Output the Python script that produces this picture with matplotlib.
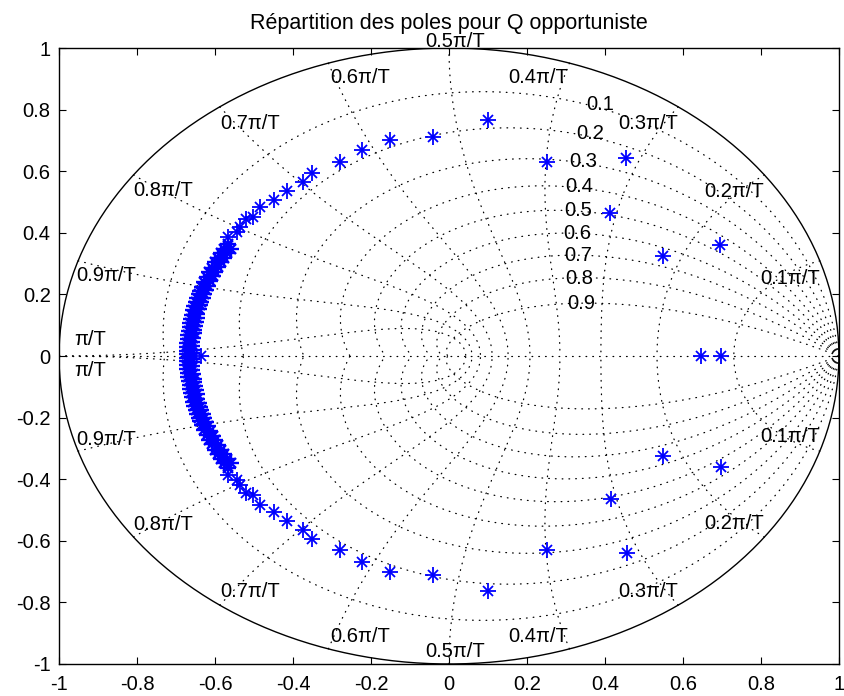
import numpy as np
import matplotlib
matplotlib.use("Agg")
import matplotlib.pyplot as plt

plt.rcParams['font.family'] = ['Liberation Sans', 'DejaVu Sans']

# poles read off the picture (real part, imaginary part)
# isolated poles, upper half
up_re = [0.696, 0.549, 0.414, 0.455, 0.251, 0.100, -0.041, -0.151, -0.223, -0.279,
         -0.351, -0.374, -0.415, -0.449, -0.485, -0.503, -0.521, -0.536, -0.544, -0.567]
up_im = [0.360, 0.325, 0.464, 0.643, 0.630, 0.765, 0.711, 0.701, 0.669, 0.630,
         0.594, 0.565, 0.536, 0.506, 0.484, 0.451, 0.445, 0.419, 0.403, 0.386]
# isolated poles, lower half
lo_re = [0.697, 0.549, 0.415, 0.456, 0.251, 0.100, -0.041, -0.151, -0.223, -0.279,
         -0.351, -0.374, -0.415, -0.449, -0.485, -0.503, -0.521, -0.536, -0.544, -0.567]
lo_im = [-0.360, -0.325, -0.464, -0.640, -0.630, -0.763, -0.711, -0.701, -0.669, -0.630,
         -0.594, -0.565, -0.536, -0.506, -0.484, -0.451, -0.445, -0.419, -0.403, -0.386]
# real poles
real_re = [0.647, 0.697, -0.637]
real_im = [0.0, 0.0, 0.0]
# dense band on the left, upper half (outer row)
band_up_re = [-0.566, -0.576, -0.584, -0.592, -0.599, -0.608, -0.615, -0.621, -0.627, -0.633,
              -0.638, -0.642, -0.646, -0.649, -0.653, -0.656, -0.659, -0.661, -0.663, -0.665,
              -0.667, -0.669, -0.670, -0.671, -0.671, -0.672, -0.672]
band_up_im = [0.363, 0.346, 0.333, 0.319, 0.305, 0.287, 0.272, 0.257, 0.241, 0.225,
              0.212, 0.200, 0.187, 0.174, 0.161, 0.148, 0.134, 0.121, 0.108, 0.095,
              0.082, 0.068, 0.055, 0.041, 0.028, 0.015, 0.005]
# dense band on the left, upper half (inner row)
band_up2_re = [-0.560, -0.568, -0.576, -0.584, -0.592, -0.600, -0.606, -0.612, -0.617, -0.623,
               -0.627, -0.631, -0.635, -0.638, -0.642, -0.645, -0.647, -0.649, -0.651, -0.653,
               -0.655, -0.657, -0.658, -0.658, -0.659, -0.659]
band_up2_im = [0.348, 0.333, 0.319, 0.306, 0.290, 0.274, 0.260, 0.244, 0.228, 0.214,
               0.202, 0.189, 0.176, 0.164, 0.151, 0.138, 0.124, 0.112, 0.099, 0.086,
               0.074, 0.060, 0.047, 0.033, 0.021, 0.010]
# dense band on the left, lower half (outer row)
band_lo_re = [-0.566, -0.576, -0.584, -0.592, -0.599, -0.608, -0.615, -0.621, -0.627, -0.633,
              -0.638, -0.642, -0.646, -0.649, -0.653, -0.656, -0.659, -0.661, -0.663, -0.665,
              -0.667, -0.669, -0.670, -0.671, -0.671, -0.672, -0.672]
band_lo_im = [-0.363, -0.346, -0.333, -0.319, -0.305, -0.287, -0.272, -0.257, -0.241, -0.225,
              -0.212, -0.200, -0.187, -0.174, -0.161, -0.148, -0.134, -0.121, -0.108, -0.095,
              -0.082, -0.068, -0.055, -0.041, -0.028, -0.015, -0.005]
# dense band on the left, lower half (inner row)
band_lo2_re = [-0.560, -0.568, -0.576, -0.584, -0.592, -0.600, -0.606, -0.612, -0.617, -0.623,
               -0.627, -0.631, -0.635, -0.638, -0.642, -0.645, -0.647, -0.649, -0.651, -0.653,
               -0.655, -0.657, -0.658, -0.658, -0.659, -0.659]
band_lo2_im = [-0.348, -0.333, -0.319, -0.306, -0.290, -0.274, -0.260, -0.244, -0.228, -0.214,
               -0.202, -0.189, -0.176, -0.164, -0.151, -0.138, -0.124, -0.112, -0.099, -0.086,
               -0.074, -0.060, -0.047, -0.033, -0.021, -0.010]

zetas = [0.1, 0.2, 0.3, 0.4, 0.5, 0.6, 0.7, 0.8, 0.9]
wn_k = [0.1, 0.2, 0.3, 0.4, 0.5, 0.6, 0.7, 0.8, 0.9, 1.0]
wn_labels = ['0.1\u03c0/T', '0.2\u03c0/T', '0.3\u03c0/T', '0.4\u03c0/T', '0.5\u03c0/T',
             '0.6\u03c0/T', '0.7\u03c0/T', '0.8\u03c0/T', '0.9\u03c0/T', '\u03c0/T']

fig = plt.figure(figsize=(8.45, 6.96), dpi=100)
ax = fig.add_axes([0.0698, 0.046, 0.923, 0.885])

grid_kw = dict(color='k', lw=0.9, dashes=(0.6, 4.8), dash_capstyle='round')

# damping ratio lines
th = np.linspace(0, np.pi, 300)
for z in zetas:
    m = z / np.sqrt(1 - z**2)
    r = np.exp(-m * th)
    ax.plot(r * np.cos(th), r * np.sin(th), **grid_kw)
    ax.plot(r * np.cos(th), -r * np.sin(th), **grid_kw)
    c = 1.17
    a = c * np.sqrt(1 - z**2)
    rr = np.exp(-c * z)
    ax.text(rr * np.cos(a), rr * np.sin(a), '%g' % z, ha='left', va='center', fontsize=14.5)

# natural frequency lines
zz = np.linspace(0, 1, 300)
for k in wn_k:
    wn = k * np.pi
    r = np.exp(-zz * wn)
    a = wn * np.sqrt(1 - zz**2)
    ax.plot(r * np.cos(a), r * np.sin(a), **grid_kw)
    ax.plot(r * np.cos(a), -r * np.sin(a), **grid_kw)

ax.plot([-1, 1], [0, 0], **grid_kw)

# frequency labels
lab_x = [0.874, 0.731, 0.510, 0.228, 0.015, -0.228, -0.510, -0.733, -0.879, -0.92]
lab_y = [0.253, 0.535, 0.756, 0.903, 1.022, 0.903, 0.756, 0.539, 0.263, 0.052]
for i, s in enumerate(wn_labels):
    ax.text(lab_x[i], lab_y[i], s, ha='center', va='center', fontsize=14.5)
    yl = -lab_y[i] - 0.008
    if i == 4:
        yl = -0.961
    if i == 9:
        yl = -0.047
    ax.text(lab_x[i], yl, s, ha='center', va='center', fontsize=14.5)

# unit circle
t = np.linspace(0, 2 * np.pi, 400)
ax.plot(np.cos(t), np.sin(t), color='k', lw=1.0)

# poles
for xs, ys in [(up_re, up_im), (lo_re, lo_im), (real_re, real_im)]:
    ax.plot(xs, ys, ls='none', marker='+', ms=11, mew=1.3, color='b')
    ax.plot(xs, ys, ls='none', marker='x', ms=6.5, mew=1.3, color='b')
for xs, ys in [(band_up_re, band_up_im), (band_lo_re, band_lo_im),
               (band_up2_re, band_up2_im), (band_lo2_re, band_lo2_im)]:
    ax.plot(xs, ys, ls='none', marker='+', ms=11, mew=1.7, color='b')
    ax.plot(xs, ys, ls='none', marker='x', ms=7, mew=1.7, color='b')

ax.set_xlim(-1, 1)
ax.set_ylim(-1, 1)
ticks = [-1, -0.8, -0.6, -0.4, -0.2, 0, 0.2, 0.4, 0.6, 0.8, 1]
ax.set_xticks(ticks)
ax.set_yticks(ticks)
ax.set_xticklabels(['%g' % v for v in ticks])
ax.set_yticklabels(['%g' % v for v in ticks])
ax.tick_params(direction='in', top=True, right=True, length=5, labelsize=14.5)
ax.tick_params(axis='x', pad=8)
ax.tick_params(axis='y', pad=6)
for s in ax.spines.values():
    s.set_linewidth(1.0)
ax.set_title('Répartition des poles pour Q opportuniste', fontsize=15.5, pad=14)

fig.savefig('out.png', dpi=100)
